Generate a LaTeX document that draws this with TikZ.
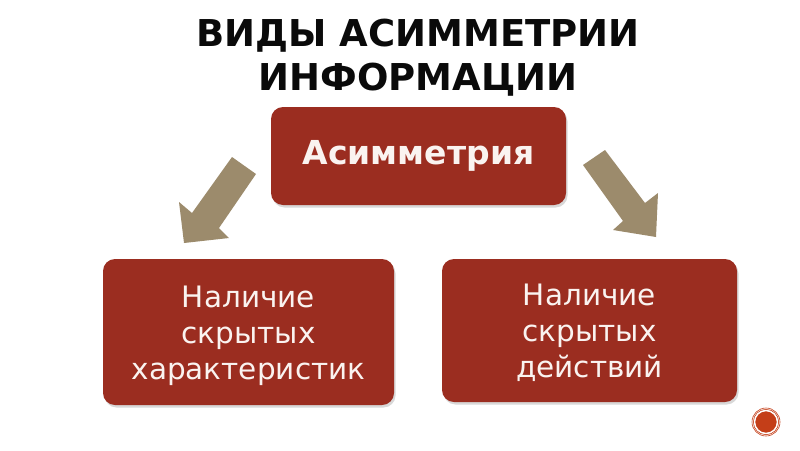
\documentclass[tikz,border=0pt]{standalone}
\usepackage{fontspec}
\setmainfont{DejaVu Sans}
\usetikzlibrary{shadows}
\definecolor{boxred}{RGB}{155,45,32}
\definecolor{arrowtan}{RGB}{156,139,108}
\definecolor{titlegray}{RGB}{10,10,10}
\definecolor{dotred}{RGB}{196,62,24}
\definecolor{textwhite}{RGB}{250,243,240}
\begin{document}
\begin{tikzpicture}[x=1pt,y=-1pt,
  redbox/.style={fill=boxred, rounded corners=12pt, drop shadow={shadow xshift=1.5pt, shadow yshift=-2.5pt, fill=black!30, opacity=0.5}},
  boxtext/.style={text=textwhite, align=center, font=\fontsize{29.5}{36}\selectfont},
  arrowshape/.style={fill=arrowtan, draw=none}]
\useasboundingbox (0,0) rectangle (800,450);
\fill[white] (0,0) rectangle (800,450);
% title
\node[text=titlegray, align=center, font=\bfseries\fontsize{37}{44}\selectfont] (title) at (418,58) {ВИДЫ АСИММЕТРИИ\\ИНФОРМАЦИИ};
% boxes
\path[redbox] (271,107) rectangle (566,205);
\node[text=textwhite, font=\bfseries\fontsize{33}{38}\selectfont] (top) at (418.5,156) {Асимметрия};
\path[redbox] (103,259) rectangle (394,405);
\node[boxtext] (left) at (248.5,336) {Наличие\\скрытых\\характеристик};
\path[redbox] (442,259) rectangle (737,402);
\node[boxtext] (right) at (589.5,333) {Наличие\\скрытых\\действий};
% arrows
\fill[arrowshape] (232,157) -- (256,174) -- (219,228) -- (229,238) -- (184,243) -- (179,202) -- (192,213) -- cycle;
\fill[arrowshape] (583,165) -- (605,150) -- (645,203) -- (658,193) -- (656,237) -- (613,230) -- (623,221) -- cycle;
% small dot
\fill[dotred] (766,422) circle (13);
\draw[white, line width=1.5pt] (766,422) circle (11.5);
\draw[dotred, line width=0.6pt] (766,422) circle (14);
\end{tikzpicture}
\end{document}
